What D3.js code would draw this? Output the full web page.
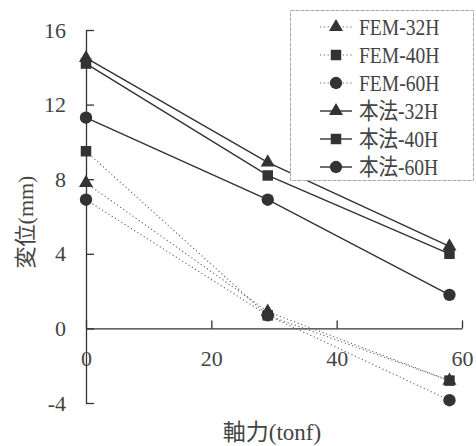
<!DOCTYPE html>
<html>
<head>
<meta charset="utf-8">
<script src="https://cdn.jsdelivr.net/npm/d3@7"></script>
<style>
  body { margin: 0; background: #fff; }
  text { font-family: "Liberation Serif", "Noto Sans CJK JP", serif; fill: #444; }
</style>
</head>
<body>
<div id="chart"></div>
<script>
// axial force (tonf) and displacement (mm) per series
const axialForce = [0, 29, 58];
const fem32 = [7.8, 0.9, -2.8];
const fem40 = [9.5, 0.7, -2.8];
const fem60 = [6.9, 0.7, -3.85];
const hon32 = [14.5, 8.9, 4.4];
const hon40 = [14.2, 8.2, 4.0];
const hon60 = [11.3, 6.9, 1.8];

const seriesNames = ["FEM-32H", "FEM-40H", "FEM-60H", "本法-32H", "本法-40H", "本法-60H"];
const seriesValues = [fem32, fem40, fem60, hon32, hon40, hon60];
const seriesSymbols = ["triangle", "square", "circle", "triangle", "square", "circle"];
const seriesDotted = [true, true, true, false, false, false];

const xTicks = [0, 20, 40, 60];
const yTicks = [-4, 0, 4, 8, 12, 16];

const svg = d3.select("#chart")
  .append("svg")
  .attr("width", 476)
  .attr("height", 446);

const x = d3.scaleLinear().domain([0, 60]).range([86, 462]);
const y = d3.scaleLinear().domain([-4, 16]).range([403, 30]);

// y axis, ticks pointing inward
const yAxis = svg.append("g")
  .attr("transform", "translate(86,0)")
  .call(d3.axisLeft(y).tickValues(yTicks).tickFormat(d => String(d))
    .tickSize(-8).tickSizeOuter(0).tickPadding(20));

// x axis drawn at y = 0, ticks pointing up
const xAxis = svg.append("g")
  .attr("transform", `translate(0,${y(0)})`)
  .call(d3.axisBottom(x).tickValues(xTicks).tickFormat(d => String(d))
    .tickSize(-8).tickSizeOuter(0).tickPadding(22));

[yAxis, xAxis].forEach(g => {
  g.selectAll("path, line").attr("stroke", "#333").attr("stroke-width", 1.3);
  g.selectAll("text").attr("font-size", 22).attr("fill", "#444")
    .attr("font-family", "'Liberation Serif', serif");
});

const symbolType = {
  triangle: d3.symbolTriangle,
  square: d3.symbolSquare,
  circle: d3.symbolCircle
};
const symbolSize = { triangle: 85, square: 110, circle: 120 };

function marker(g, type, cx, cy) {
  g.append("path")
    .attr("d", d3.symbol().type(symbolType[type]).size(symbolSize[type])())
    .attr("transform", `translate(${cx},${cy})`)
    .attr("fill", "#333");
}

const line = d3.line()
  .x((d, i) => x(axialForce[i]))
  .y(d => y(d));

const plot = svg.append("g");
seriesValues.forEach((vals, s) => {
  plot.append("path")
    .datum(vals)
    .attr("d", line)
    .attr("fill", "none")
    .attr("stroke", seriesDotted[s] ? "#666" : "#333")
    .attr("stroke-width", seriesDotted[s] ? 1.1 : 1.4)
    .attr("stroke-dasharray", seriesDotted[s] ? "1.2,2.6" : null);
});
seriesValues.forEach((vals, s) => {
  vals.forEach((v, i) => marker(plot, seriesSymbols[s], x(axialForce[i]), y(v)));
});

// legend
const legend = svg.append("g");
legend.append("rect")
  .attr("x", 290.5).attr("y", 10.5)
  .attr("width", 183).attr("height", 170)
  .attr("fill", "#fff")
  .attr("stroke", "#aaa")
  .attr("stroke-dasharray", "4,1");

seriesNames.forEach((name, s) => {
  const ly = 27 + s * 28;
  legend.append("line")
    .attr("x1", 320).attr("x2", 352)
    .attr("y1", ly).attr("y2", ly)
    .attr("stroke", seriesDotted[s] ? "#666" : "#333")
    .attr("stroke-width", seriesDotted[s] ? 1.1 : 1.4)
    .attr("stroke-dasharray", seriesDotted[s] ? "1.2,2.6" : null);
  marker(legend, seriesSymbols[s], 336, ly);
  legend.append("text")
    .attr("transform", `translate(359,${ly}) scale(0.85,1)`)
    .attr("dy", "0.35em")
    .attr("font-size", 23)
    .text(name);
});

// axis titles
svg.append("text")
  .attr("x", 272).attr("y", 432)
  .attr("text-anchor", "middle")
  .attr("dy", "0.35em")
  .attr("font-size", 23)
  .text("軸力(tonf)");

svg.append("text")
  .attr("transform", "translate(25,222) rotate(-90)")
  .attr("text-anchor", "middle")
  .attr("dy", "0.35em")
  .attr("font-size", 22)
  .text("変位(mm)");
</script>
</body>
</html>
